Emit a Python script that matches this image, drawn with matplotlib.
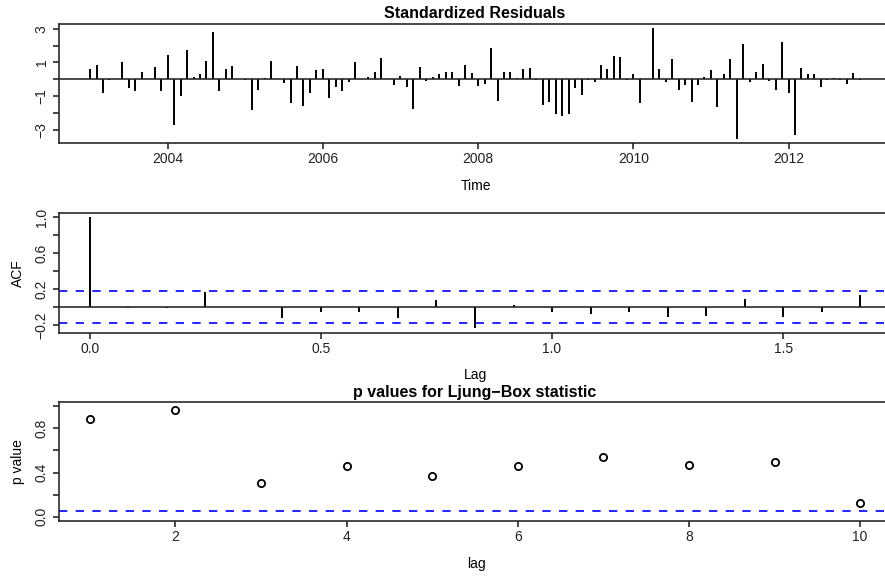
import numpy as np
import matplotlib
matplotlib.use("Agg")
import matplotlib.pyplot as plt

plt.rcParams['font.family'] = ['Liberation Sans', 'DejaVu Sans']
plt.rcParams['axes.unicode_minus'] = True

# ---- data ----
start_year = 2003
residuals = [
    0.60, 0.85, -0.82, -0.05, 0.05, 1.05, -0.53, -0.69, 0.45, 0.03, 0.76, -0.69,
    1.43, -2.73, -0.98, 1.73, 0.14, 0.29, 1.08, 2.82, -0.71, 0.59, 0.78, 0.03,
    -0.04, -1.82, -0.65, 0.06, 1.08, 0.02, -0.24, -1.41, 0.78, -1.57, -0.78, 0.53,
    0.59, -1.08, -0.47, -0.67, -0.14, 1.00, 0.02, 0.14, 0.45, 1.24, 0.03, -0.31,
    0.18, -0.43, -1.76, 0.76, -0.08, 0.16, 0.33, 0.41, 0.43, -0.41, 0.88, 0.37,
    -0.37, -0.27, 1.84, -1.29, 0.41, 0.45, 0.10, 0.59, 0.65, -0.02, -1.51, -1.35,
    -2.04, -2.20, -2.04, -0.53, -0.90, -0.02, -0.18, 0.84, 0.59, 1.39, 1.33, -0.05,
    0.33, -1.41, 0.02, 3.02, 0.59, -0.14, 1.18, -0.63, -0.33, -1.35, -0.31, 0.14,
    0.55, -1.65, 0.31, 1.18, -3.51, 2.10, -0.18, 0.41, 0.90, -0.10, -0.65, 2.24,
    -0.82, -3.27, 0.65, 0.31, 0.31, -0.43, -0.06, 0.08, -0.06, -0.25, 0.37, -0.06,
]
year_ticks = [2004, 2006, 2008, 2010, 2012]

acf_values = [1.0, -0.01, -0.01, 0.17, -0.005, -0.12, -0.06, -0.06, -0.12, 0.078,
              -0.233, 0.02, -0.06, -0.074, -0.052, -0.115, -0.104, 0.089, -0.111,
              -0.052, 0.137]
acf_conf = 0.179
acf_xticks = [0.0, 0.5, 1.0, 1.5]

lb_lags = [1, 2, 3, 4, 5, 6, 7, 8, 9, 10]
lb_pvalues = [0.883, 0.967, 0.305, 0.46, 0.372, 0.46, 0.538, 0.469, 0.493, 0.124]
lb_level = 0.05

# ---- figure ----
W, H = 885, 576
fig = plt.figure(figsize=(W / 100, H / 100), dpi=100)

def px_axes(left, top, right, bottom):
    return fig.add_axes([left / W, 1 - bottom / H, (right - left) / W, (bottom - top) / H])

LW = 1.15
TS = 10      # tick label size
LS = 10      # axis label size
MS = 11.5    # title size

def style(ax):
    for s in ax.spines.values():
        s.set_linewidth(LW)
        s.set_color('#222222')
    ax.tick_params(direction='out', length=4.3, width=LW, labelsize=TS, pad=2.5,
                   colors='#222222')
    ax.tick_params(axis='y', pad=3.2)
    for lab in ax.get_yticklabels():
        lab.set_rotation(90)
        lab.set_va('center')

# Panel 1: standardized residuals
ax1 = px_axes(59, 24, 891, 143)
t = start_year + np.arange(len(residuals)) / 12.0
ax1.vlines(t, 0, residuals, color='black', linewidth=1.4)
ax1.axhline(0, color='#222222', linewidth=LW)
ax1.set_xlim(2002.6, 2013.32)
ax1.set_ylim(-3.77, 3.28)
ax1.set_xticks(year_ticks)
ax1.set_xticklabels([str(y) for y in year_ticks])
ax1.set_yticks([-3, -2, -1, 0, 1, 2, 3])
ax1.set_yticklabels(['\u22123', '', '\u22121', '', '1', '', '3'])
style(ax1)
fig.text(475 / W, 1 - 14 / H, 'Standardized Residuals', ha='center', va='center',
         fontsize=MS, fontweight='bold')
fig.text(476 / W, 1 - 186 / H, 'Time', ha='center', va='center', fontsize=LS)

# Panel 2: ACF of residuals
ax2 = px_axes(59, 213, 891, 332.7)
lags = np.arange(len(acf_values)) / 12.0
ax2.vlines(lags, 0, acf_values, color='black', linewidth=1.4)
ax2.axhline(0, color='#222222', linewidth=LW)
for c in (acf_conf, -acf_conf):
    ax2.axhline(c, color='#0000ff', linewidth=1.2, linestyle=(0, (5, 5)))
ax2.set_xlim(-0.0667, 1.7333)
ax2.set_ylim(-0.285, 1.044)
ax2.set_xticks(acf_xticks)
ax2.set_xticklabels(['0.0', '0.5', '1.0', '1.5'])
ax2.set_yticks([-0.2, 0.0, 0.2, 0.4, 0.6, 0.8, 1.0])
ax2.set_yticklabels(['\u22120.2', '', '0.2', '', '0.6', '', '1.0'])
style(ax2)
fig.text(475 / W, 1 - 375 / H, 'Lag', ha='center', va='center', fontsize=LS)
fig.text(18 / W, 1 - 272.8 / H, 'ACF', ha='center', va='center', fontsize=LS,
         rotation=90)

# Panel 3: Ljung-Box p-values
ax3 = px_axes(59, 402, 891, 521)
ax3.plot(lb_lags, lb_pvalues, linestyle='none', marker='o', markersize=5.2,
         markerfacecolor='none', markeredgecolor='black', markeredgewidth=1.3)
ax3.axhline(lb_level, color='#0000ff', linewidth=1.2, linestyle=(0, (5, 5)))
ax3.set_xlim(0.64, 10.36)
ax3.set_ylim(-0.04, 1.04)
ax3.set_xticks([2, 4, 6, 8, 10])
ax3.set_yticks([0.0, 0.2, 0.4, 0.6, 0.8, 1.0])
ax3.set_yticklabels(['0.0', '', '0.4', '', '0.8', ''])
style(ax3)
fig.text(475 / W, 1 - 393 / H, 'p values for Ljung\u2212Box statistic', ha='center',
         va='center', fontsize=MS, fontweight='bold')
fig.text(476 / W, 1 - 564 / H, 'lag', ha='center', va='center', fontsize=LS)
fig.text(18 / W, 1 - 461.5 / H, 'p value', ha='center', va='center', fontsize=LS,
         rotation=90)

fig.savefig('out.png', dpi=100)
